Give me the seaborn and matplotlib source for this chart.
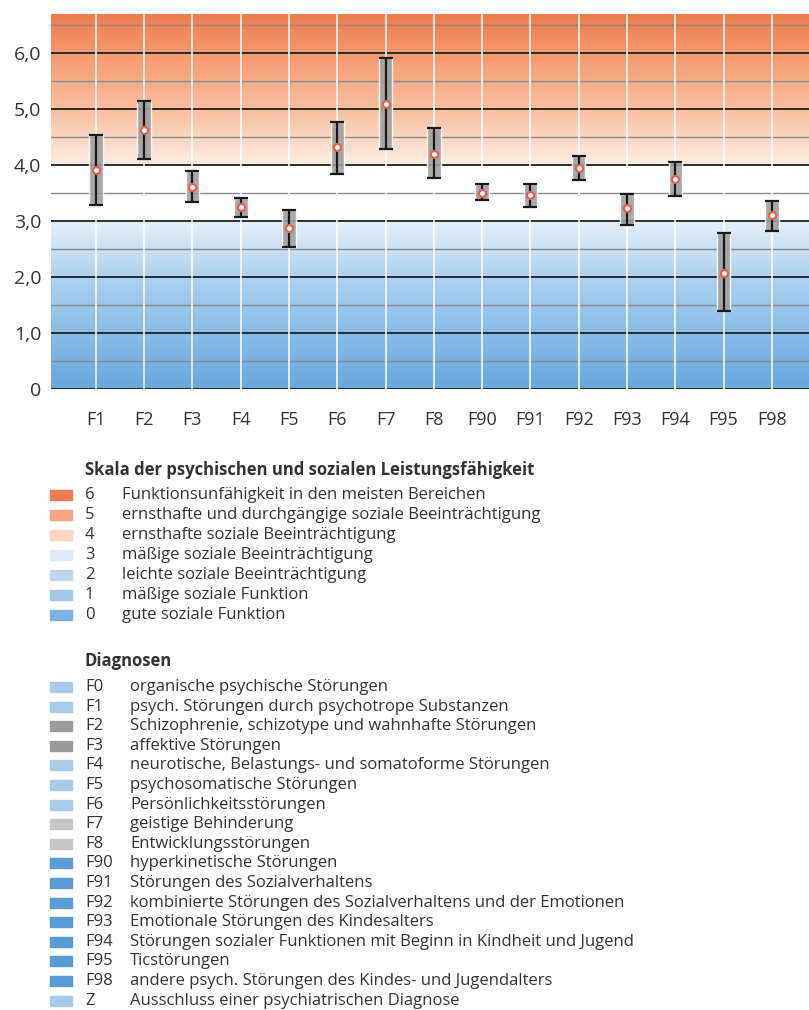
import numpy as np
import pandas as pd
import matplotlib
matplotlib.use("Agg")
import matplotlib.pyplot as plt
from matplotlib.colors import LinearSegmentedColormap
from matplotlib.patches import Rectangle
import seaborn as sns

# diagnosis groups and their functioning level (mean with range)
cats = ["F1", "F2", "F3", "F4", "F5", "F6", "F7", "F8",
        "F90", "F91", "F92", "F93", "F94", "F95", "F98"]
means = [3.92, 4.62, 3.61, 3.25, 2.87, 4.32, 5.09, 4.20,
         3.51, 3.47, 3.95, 3.23, 3.75, 2.08, 3.10]
lows = [3.29, 4.11, 3.34, 3.07, 2.54, 3.84, 4.29, 3.77,
        3.37, 3.25, 3.73, 2.93, 3.44, 1.39, 2.82]
highs = [4.54, 5.14, 3.89, 3.41, 3.20, 4.77, 5.91, 4.67,
         3.67, 3.66, 4.16, 3.49, 4.05, 2.78, 3.36]

ytick_vals = [0, 1, 2, 3, 4, 5, 6]
ytick_labels = ["0", "1,0", "2,0", "3,0", "4,0", "5,0", "6,0"]

scale_title = "Skala der psychischen und sozialen Leistungsfähigkeit"
scale_codes = ["6", "5", "4", "3", "2", "1", "0"]
scale_texts = [
    "Funktionsunfähigkeit in den meisten Bereichen",
    "ernsthafte und durchgängige soziale Beeinträchtigung",
    "ernsthafte soziale Beeinträchtigung",
    "mäßige soziale Beeinträchtigung",
    "leichte soziale Beeinträchtigung",
    "mäßige soziale Funktion",
    "gute soziale Funktion",
]
scale_colors = ["#f07d52", "#f5a57f", "#fcd6c0", "#deebf7",
                "#bdd6ee", "#a2c7ea", "#7cb1e0"]

diag_title = "Diagnosen"
diag_codes = ["F0", "F1", "F2", "F3", "F4", "F5", "F6", "F7", "F8",
              "F90", "F91", "F92", "F93", "F94", "F95", "F98", "Z"]
diag_texts = [
    "organische psychische Störungen",
    "psych. Störungen durch psychotrope Substanzen",
    "Schizophrenie, schizotype und wahnhafte Störungen",
    "affektive Störungen",
    "neurotische, Belastungs- und somatoforme Störungen",
    "psychosomatische Störungen",
    "Persönlichkeitsstörungen",
    "geistige Behinderung",
    "Entwicklungsstörungen",
    "hyperkinetische Störungen",
    "Störungen des Sozialverhaltens",
    "kombinierte Störungen des Sozialverhaltens und der Emotionen",
    "Emotionale Störungen des Kindesalters",
    "Störungen sozialer Funktionen mit Beginn in Kindheit und Jugend",
    "Ticstörungen",
    "andere psych. Störungen des Kindes- und Jugendalters",
    "Ausschluss einer psychiatrischen Diagnose",
]
diag_colors = ["#a8cbea", "#a8cbea", "#9a9a9a", "#9a9a9a", "#a8cbea",
               "#a8cbea", "#a8cbea", "#c6c6c6", "#c6c6c6", "#5b9bd5",
               "#5b9bd5", "#5b9bd5", "#5b9bd5", "#5b9bd5", "#5b9bd5",
               "#5b9bd5", "#a8cbea"]

df = pd.DataFrame({"cat": cats, "mean": means, "low": lows, "high": highs})

sns.set_theme(style="white")
plt.rcParams["font.family"] = ["Open Sans", "DejaVu Sans"]
text_col = "#333333"

fig = plt.figure(figsize=(8.09, 10.10), dpi=100)
ax = fig.add_axes([51 / 809, 1 - 389 / 1010, 1 - 51 / 809, (389 - 14) / 1010])

ymax = 6.7
xmin, xmax = -0.93, len(cats) - 1 + 0.77

# background gradient: blue below 3, white 3..4, orange above 4
bg = LinearSegmentedColormap.from_list("bg", [
    (0.0, "#68a8df"),
    (1 / ymax, "#88bce7"),
    (2 / ymax, "#aed1ef"),
    (2.98 / ymax, "#e4eff9"),
    (3.0 / ymax, "#ffffff"),
    (4.0 / ymax, "#ffffff"),
    (4.02 / ymax, "#fdece2"),
    (5.0 / ymax, "#f9bf9f"),
    (6.0 / ymax, "#f49970"),
    (1.0, "#f07c4e"),
])
grad = np.linspace(0, 1, 600).reshape(-1, 1)
ax.imshow(grad, cmap=bg, aspect="auto", origin="lower",
          extent=[xmin, xmax, 0, ymax], zorder=0)

# grid lines
for y in np.arange(0.5, ymax, 1.0):
    ax.axhline(y, color="#8a8a8a", lw=1.0, zorder=1)
for y in ytick_vals:
    ax.axhline(y, color="#1e1e1e", lw=1.3, zorder=1)
x = np.arange(len(cats))
for xi in x:
    ax.axvline(xi, color="white", lw=1.3, alpha=0.85, zorder=1)

# gray range boxes
ax.bar(x, df["high"] - df["low"], bottom=df["low"], width=0.28,
       color="#a0a0a0", alpha=0.9, zorder=2)
# whiskers
ax.errorbar(x, df["mean"], yerr=[df["mean"] - df["low"], df["high"] - df["mean"]],
            fmt="none", ecolor="#1a1a1a", elinewidth=1.6, capsize=5,
            capthick=1.6, zorder=3)
# mean points
sns.scatterplot(x=x, y=df["mean"], ax=ax, s=26, marker="o",
                facecolor="white", edgecolor="#e8604c", linewidth=1.6,
                zorder=4, legend=False)

ax.set_xlim(xmin, xmax)
ax.set_ylim(0, ymax)
ax.set_xticks(x)
ax.set_xticklabels(cats)
ax.set_yticks(ytick_vals)
ax.set_yticklabels(ytick_labels)
ax.tick_params(axis="both", length=0, colors=text_col)
ax.tick_params(axis="x", pad=16, labelsize=13)
ax.tick_params(axis="y", pad=7, labelsize=14)
ax.set_xlabel("")
ax.set_ylabel("")
for s in ax.spines.values():
    s.set_visible(False)


def fy(py):
    return 1 - py / 1010


def fx(px):
    return px / 809


fs = 12
# legend 1: scale
fig.text(fx(85), fy(470), scale_title, fontsize=fs, fontweight="bold",
         color=text_col, va="center")
for i, (c, t, col) in enumerate(zip(scale_codes, scale_texts, scale_colors)):
    py = 495 + i * 20.0
    fig.patches.append(Rectangle((fx(50), fy(py + 5)), fx(22), 10 / 1010,
                                 transform=fig.transFigure, color=col))
    fig.text(fx(85), fy(py), c, fontsize=fs, color=text_col, va="center")
    fig.text(fx(122), fy(py), t, fontsize=fs, color=text_col, va="center")

# legend 2: diagnoses
fig.text(fx(85), fy(661), diag_title, fontsize=fs, fontweight="bold",
         color=text_col, va="center")
for i, (c, t, col) in enumerate(zip(diag_codes, diag_texts, diag_colors)):
    py = 687 + i * 19.6
    fig.patches.append(Rectangle((fx(50), fy(py + 5)), fx(22), 10 / 1010,
                                 transform=fig.transFigure, color=col))
    fig.text(fx(85), fy(py), c, fontsize=fs, color=text_col, va="center")
    fig.text(fx(130), fy(py), t, fontsize=fs, color=text_col, va="center")

fig.savefig("out.png", dpi=100)
